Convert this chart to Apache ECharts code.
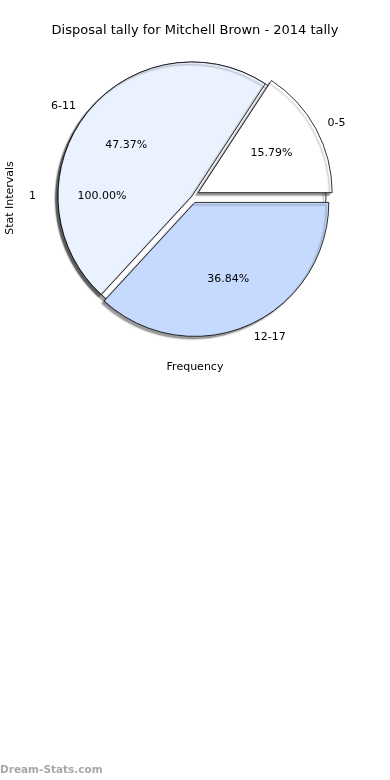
<!DOCTYPE html>
<html>
<head>
<meta charset="utf-8">
<script src="https://cdn.jsdelivr.net/npm/echarts@6/dist/echarts.min.js"></script>
<style>
html,body{margin:0;padding:0;background:#fff;}
#c{width:390px;height:780px;}
</style>
</head>
<body>
<div id="c"></div>
<script>
// Data
const categories = ['0-5', '6-11', '12-17'];
const values = [3, 9, 7];
const exploded = [true, false, true];
const sliceColors = ['#ffffff', '#eaf1ff', '#c6d9ff'];
const baseCategories = ['1'];
const baseValues = [1];

const FONT = 'DejaVu Sans';
const CX = 192, CY = 196, R = 134;

const chart = echarts.init(document.getElementById('c'), null, {renderer: 'canvas'});

const shadow = {shadowColor: 'rgba(0,0,0,0.4)', shadowBlur: 1.5, shadowOffsetX: -2.5, shadowOffsetY: 2.5};

const mainData = categories.map((n, i) => ({
  name: n, value: values[i], selected: exploded[i],
  itemStyle: Object.assign({color: sliceColors[i], borderColor: '#000', borderWidth: 0.8}, shadow)
}));
const mainPctData = categories.map((n, i) => ({name: n, value: values[i], selected: exploded[i]}));
const baseData = baseCategories.map((n, i) => ({
  name: n, value: baseValues[i],
  itemStyle: Object.assign({color: '#ffffff', borderColor: '#000', borderWidth: 0.8}, shadow)
}));
const basePctData = baseCategories.map((n, i) => ({name: n, value: baseValues[i]}));

const nameLabel = {
  show: true, position: 'outside', formatter: '{b}', color: '#000',
  fontFamily: FONT, fontSize: 11, distanceToLabelLine: 0
};
const nameLine = {show: false, length: Math.round(R * 0.1), length2: 0};
const baseNameLine = {show: false, length: 22, length2: 0};
const pctLabel = {
  show: true, position: 'inside', color: '#000', fontFamily: FONT, fontSize: 11,
  formatter: p => p.percent.toFixed(2) + '%'
};
const transparentItem = {color: 'rgba(0,0,0,0)', borderWidth: 0};

chart.setOption({
  animation: false,
  title: [
    {text: 'Disposal tally for Mitchell Brown - 2014 tally', left: 'center', top: 19,
     textStyle: {fontFamily: FONT, fontSize: 13, fontWeight: 'normal', color: '#000'}},
    {text: 'Frequency', left: 'center', top: 357,
     textStyle: {fontFamily: FONT, fontSize: 11, fontWeight: 'normal', color: '#000'}},
    {text: 'Dream-Stats.com', left: 0, top: 765, padding: 0,
     textStyle: {fontFamily: FONT, fontSize: 10.5, fontWeight: 'bold', color: '#a8a8a8'}}
  ],
  graphic: [
    {type: 'text', x: 10, y: 198, rotation: Math.PI / 2,
     style: {text: 'Stat Intervals', font: '11px "DejaVu Sans"', fill: '#000', align: 'center', verticalAlign: 'middle'}}
  ],
  series: [
    {
      type: 'pie', name: 'base', center: [CX, CY], radius: [0, R],
      startAngle: 0, clockwise: false, avoidLabelOverlap: false, silent: true,
      label: nameLabel, labelLine: baseNameLine, data: baseData
    },
    {
      type: 'pie', name: 'main', center: [CX, CY], radius: [0, R],
      startAngle: 0, clockwise: false, avoidLabelOverlap: false, silent: true,
      selectedMode: 'multiple', selectedOffset: 7,
      label: nameLabel, labelLine: nameLine, data: mainData
    },
    {
      type: 'pie', name: 'basePct', center: [CX, CY], radius: [0, R * 1.3],
      startAngle: 0, clockwise: false, avoidLabelOverlap: false, silent: true,
      percentPrecision: 2, itemStyle: transparentItem,
      label: pctLabel, labelLine: {show: false}, data: basePctData
    },
    {
      type: 'pie', name: 'mainPct', center: [CX, CY], radius: [0, R * 1.2],
      startAngle: 0, clockwise: false, avoidLabelOverlap: false, silent: true,
      selectedMode: 'multiple', selectedOffset: 7,
      percentPrecision: 2, itemStyle: transparentItem,
      label: pctLabel, labelLine: {show: false}, data: mainPctData
    }
  ]
});
</script>
</body>
</html>
